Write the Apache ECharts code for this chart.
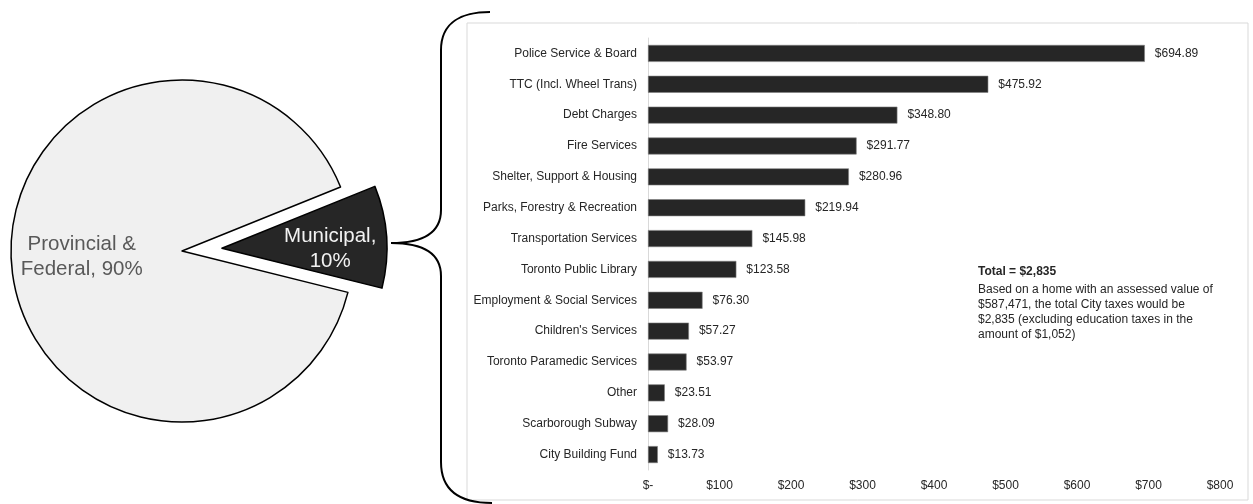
<!DOCTYPE html>
<html><head><meta charset="utf-8">
<script src="https://cdn.jsdelivr.net/npm/echarts@6/dist/echarts.min.js"></script>
<style>html,body{margin:0;padding:0;background:#fff}#c{width:1253px;height:504px}</style>
</head><body><div id="c"></div>
<script>
// ---- data ----
const pieNames = ['Municipal', 'Provincial & Federal'];
const pieValues = [10, 90];
const pieLabels = [['Municipal,', '10%'], ['Provincial &', 'Federal, 90%']];

const categories = [
  'Police Service & Board', 'TTC (Incl. Wheel Trans)', 'Debt Charges', 'Fire Services',
  'Shelter, Support & Housing', 'Parks, Forestry & Recreation', 'Transportation Services',
  'Toronto Public Library', 'Employment & Social Services', "Children's Services",
  'Toronto Paramedic Services', 'Other', 'Scarborough Subway', 'City Building Fund'
];
const values = [694.89, 475.92, 348.80, 291.77, 280.96, 219.94, 145.98, 123.58, 76.30, 57.27, 53.97, 23.51, 28.09, 13.73];
const xTickLabels = ['$-', '$100', '$200', '$300', '$400', '$500', '$600', '$700', '$800'];

const noteTitle = 'Total = $2,835';
const noteLines = [
  'Based on a home with an assessed value of',
  '$587,471, the total City taxes would be',
  '$2,835 (excluding education taxes in the',
  'amount of $1,052)'
];

// ---- chart ----
const FONT = '"Liberation Sans", Arial, sans-serif';
const chart = echarts.init(document.getElementById('c'), null, {renderer: 'canvas'});

const pieCommon = {
  type: 'pie', center: [182, 251], startAngle: 22, clockwise: true,
  silent: true, animation: false, labelLine: {show: false}
};

const bigPieData = pieNames.map((n, i) => i === 0 ? {
  name: n, value: pieValues[i],
  itemStyle: {color: 'rgba(0,0,0,0)', borderWidth: 0},
  label: {show: false}
} : {
  name: n, value: pieValues[i],
  itemStyle: {color: '#f0f0f0', borderColor: '#000', borderWidth: 1.5},
  label: {show: true, position: 'inside', formatter: pieLabels[i].join('\n'), color: '#595959',
    fontSize: 20.5, lineHeight: 25, fontFamily: FONT, padding: [0, 24, 4, 0]}
});

const smallPieData = pieNames.map((n, i) => i === 0 ? {
  name: n, value: pieValues[i], selected: true,
  itemStyle: {color: '#262626', borderColor: '#000', borderWidth: 1.5},
  select: {itemStyle: {color: '#262626', borderColor: '#000', borderWidth: 1.5}},
  label: {show: true, position: 'inside',
    formatter: '{s| }\n' + pieLabels[i].map(t => '{t|' + t + '}').join('\n'),
    padding: [0, 0, 0, 46],
    rich: {
      s: {fontSize: 2, lineHeight: 14},
      t: {color: '#f2f2f2', fontSize: 20.5, lineHeight: 25, fontFamily: FONT}
    }}
} : {
  name: n, value: pieValues[i],
  itemStyle: {color: 'rgba(0,0,0,0)', borderWidth: 0},
  label: {show: false}
});

const braceStyle = {fill: 'none', stroke: '#000', lineWidth: 2};
const option = {
  animation: false,
  backgroundColor: '#fff',
  graphic: [
    {type: 'rect', z: 0, shape: {x: 467, y: 23, width: 781, height: 477},
     style: {fill: '#fff', stroke: '#d9d9d9', lineWidth: 1}},
    {type: 'bezierCurve', z: 10, shape: {x1: 490, y1: 12, cpx1: 462, cpy1: 12, cpx2: 441, cpy2: 22, x2: 441, y2: 50}, style: braceStyle},
    {type: 'line', z: 10, shape: {x1: 441, y1: 50, x2: 441, y2: 210}, style: braceStyle},
    {type: 'bezierCurve', z: 10, shape: {x1: 441, y1: 210, cpx1: 441, cpy1: 234, cpx2: 421, cpy2: 243, x2: 391, y2: 243}, style: braceStyle},
    {type: 'bezierCurve', z: 10, shape: {x1: 391, y1: 243, cpx1: 421, cpy1: 243, cpx2: 441, cpy2: 252, x2: 441, y2: 276}, style: braceStyle},
    {type: 'line', z: 10, shape: {x1: 441, y1: 276, x2: 441, y2: 462}, style: braceStyle},
    {type: 'bezierCurve', z: 10, shape: {x1: 441, y1: 462, cpx1: 441, cpy1: 492, cpx2: 462, cpy2: 503, x2: 492, y2: 503}, style: braceStyle},
    {type: 'text', z: 10, left: 978, top: 266,
     style: {text: noteTitle, font: 'bold 12px ' + FONT, fill: '#262626'}},
    {type: 'text', z: 10, left: 978, top: 282,
     style: {text: noteLines.join('\n'), font: '12px ' + FONT, fill: '#262626', lineHeight: 15}}
  ],
  grid: {left: 648, right: 33, top: 38, bottom: 34, containLabel: false},
  xAxis: {
    type: 'value', min: 0, max: 800, interval: 100,
    axisLine: {show: false}, axisTick: {show: false}, splitLine: {show: false},
    axisLabel: {margin: 10, color: '#262626', fontSize: 12, fontFamily: FONT,
      formatter: (v) => xTickLabels[Math.round(v / 100)]}
  },
  yAxis: {
    type: 'category', data: categories, inverse: true,
    axisLine: {show: true, lineStyle: {color: '#d9d9d9', width: 1}},
    axisTick: {show: false},
    axisLabel: {margin: 11, color: '#262626', fontSize: 12, fontFamily: FONT}
  },
  series: [
    Object.assign({}, pieCommon, {radius: 171, data: bigPieData, z: 2}),
    Object.assign({}, pieCommon, {radius: 165, selectedMode: 'single', selectedOffset: 40, data: smallPieData, z: 3}),
    {
      type: 'bar', data: values, barCategoryGap: '45%', silent: true,
      itemStyle: {color: '#262626', borderColor: '#7f7f7f', borderWidth: 0.6},
      label: {show: true, position: 'right', distance: 10, color: '#262626', fontSize: 12,
        fontFamily: FONT, formatter: (p) => '$' + p.value.toFixed(2)}
    }
  ]
};
chart.setOption(option);
</script>
</body></html>
